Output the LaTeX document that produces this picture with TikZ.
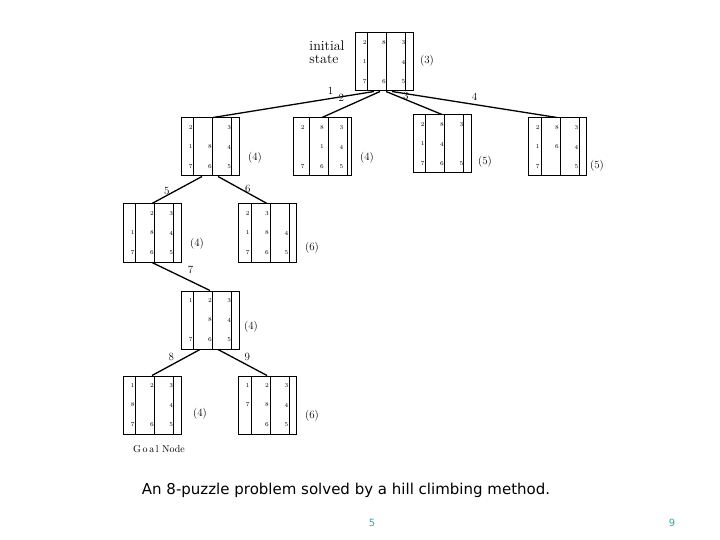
\documentclass[tikz,border=0pt]{standalone}
\usepackage{fontspec}
\newfontfamily\sansf{DejaVu Sans}
\definecolor{teal9}{RGB}{40,170,170}
\begin{document}
\begin{tikzpicture}[x=1pt,y=-1pt,
  board/.style={draw,line width=1pt,minimum size=58pt,inner sep=0pt},
  num/.style={font=\fontsize{6}{6}\selectfont},
  cost/.style={font=\fontsize{11}{11}\selectfont},
  elab/.style={font=\fontsize{11}{11}\selectfont},
  edge/.style={line width=1.3pt}]
\useasboundingbox (0,0) rectangle (720,540);
\newcommand\myboard[4]{%
  \node[board] (#3) at (#1,#2) {};
  \draw[line width=1pt] (#1-29,#2-29) grid[step=19.33] (#1+29,#2+29);
  \foreach \v [count=\i from 0] in {#4} {
    \pgfmathsetmacro\cx{#1-19.33+19.33*mod(\i,3)}
    \pgfmathsetmacro\cy{#2-19.33+19.33*floor(\i/3)}
    \node[num] at (\cx,\cy) {\v};
  }}
\myboard{384}{62}{r}{2,8,3,1,{},4,7,6,5}
\myboard{210}{147}{a}{2,{},3,1,8,4,7,6,5}
\myboard{322}{147}{b}{2,8,3,{},1,4,7,6,5}
\myboard{442}{144}{c}{2,8,3,1,4,{},7,6,5}
\myboard{557}{147}{d}{2,8,3,1,6,4,7,{},5}
\myboard{152}{233}{e}{{},2,3,1,8,4,7,6,5}
\myboard{267}{233}{f}{2,3,{},1,8,4,7,6,5}
\myboard{210}{320}{g}{1,2,3,{},8,4,7,6,5}
\myboard{152}{405}{h}{1,2,3,8,{},4,7,6,5}
\myboard{267}{405}{i}{1,2,3,7,8,4,{},6,5}
\draw[edge] ([xshift=-10]r.south) -- ([xshift=3]a.north) node[elab,pos=0.27,above] {1};
\draw[edge] ([xshift=-4]r.south) -- (b.north) node[elab,pos=0.55,above left] {2};
\draw[edge] ([xshift=2]r.south) -- (c.north) node[elab,pos=0.2,right=2pt] {3};
\draw[edge] ([xshift=8]r.south) -- (d.north) node[elab,pos=0.5,above] {4};
\draw[edge] ([xshift=-8]a.south) -- (e.north) node[elab,pos=0.55,left=1pt] {5};
\draw[edge] ([xshift=8]a.south) -- (f.north) node[elab,pos=0.45,right=1pt] {6};
\draw[edge] (e.south) -- (g.north) node[elab,pos=0.55,above right] {7};
\draw[edge] ([xshift=-10]g.south) -- (h.north) node[elab,pos=0.6,above] {8};
\draw[edge] ([xshift=8]g.south) -- (i.north) node[elab,pos=0.6,above] {9};
\node[cost] (c0) at (427,61) {(3)};
\node[cost] (c1) at (255,158) {(4)};
\node[cost] (c2) at (367,158) {(4)};
\node[cost] (c3) at (485,162) {(5)};
\node[cost] (c4) at (597,166) {(5)};
\node[cost] (c5) at (197,244) {(4)};
\node[cost] (c6) at (312,248) {(6)};
\node[cost] (c7) at (251,327) {(4)};
\node[cost] (c8) at (200,414) {(4)};
\node[cost] (c9) at (312,416) {(6)};
\node[font=\fontsize{14}{13}\selectfont,align=left] (init) at (327,52) {initial\\state};
\node[font=\fontsize{10}{10}\selectfont] (goal) at (159,449) {G\,o\,a\,l Node};
\node[font=\sansf\fontsize{15}{15}\selectfont] (cap) at (346,490) {An 8-puzzle problem solved by a hill climbing method.};
\node[font=\sansf\fontsize{10}{10}\selectfont,text=teal9] (p5) at (372,523) {5};
\node[font=\sansf\fontsize{10}{10}\selectfont,text=teal9] (p9) at (672,523) {9};
\end{tikzpicture}
\end{document}
